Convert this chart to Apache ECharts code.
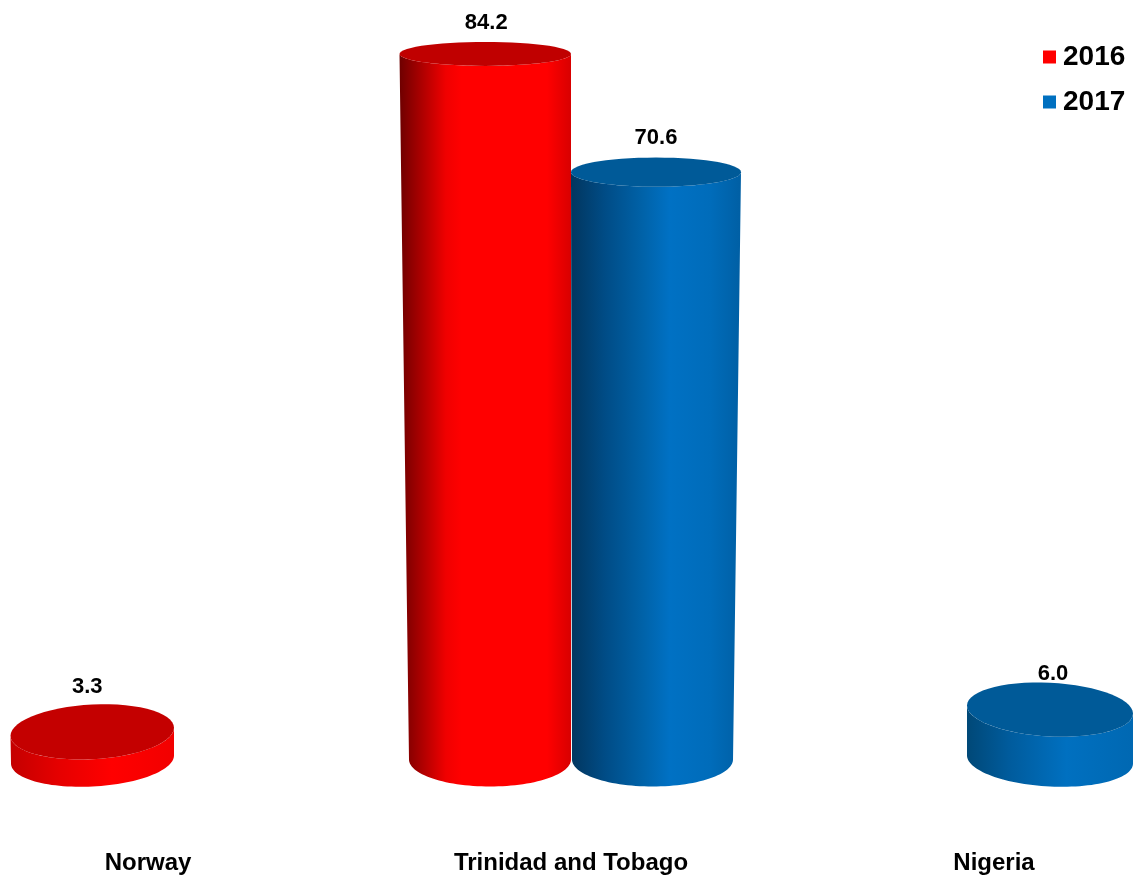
<!DOCTYPE html>
<html>
<head>
<meta charset="utf-8">
<style>html,body{margin:0;padding:0;background:#fff}#c{width:1133px;height:878px}</style>
<script src="https://cdn.jsdelivr.net/npm/echarts@6/dist/echarts.min.js"></script>
</head>
<body>
<div id="c"></div>
<script>
const categories = ['Norway', 'Trinidad and Tobago', 'Nigeria'];
const seriesNames = ['2016', '2017'];
const values2016 = [3.3, 84.2, null];
const values2017 = [null, 70.6, 6.0];

const FONT = '"Liberation Sans", Arial, sans-serif';
const redBody = [[0,'#6e0000'],[0.12,'#a80000'],[0.27,'#f00000'],[0.36,'#ff0000'],[0.86,'#ff0000'],[1,'#d80000']];
const blueBody = [[0,'#02365f'],[0.2,'#004c86'],[0.42,'#0062a8'],[0.58,'#0071c4'],[0.82,'#006cba'],[1,'#005fa4']];
const redFlat = [[0,'#c40000'],[0.3,'#e60000'],[0.62,'#ff0000'],[1,'#f20000']];
const blueFlat = [[0,'#004877'],[0.25,'#005b9c'],[0.6,'#0070c0'],[1,'#0068b2']];

// Horizontal look of each drum, relative to its category's centre.
const look = {
  '0-0': {l:-137, r:26, flareL:-0.5, flareR:0, tilt:-4, body:redFlat, cap:'#c40000', lx:-5, ly:18},
  '0-1': {l:-162, r:0, flareL:-9.5, flareR:0, tilt:0, body:redBody, cap:'#c00000', lx:1, ly:19},
  '1-1': {l:1, r:162, flareL:-1, flareR:8, tilt:0, body:blueBody, cap:'#005a98', lx:0, ly:20},
  '1-2': {l:-27, r:139, flareL:0, flareR:0, tilt:4, body:blueFlat, cap:'#005a98', lx:3, ly:9}
};

function arc(cx, cy, rx, ry, tilt, a0, a1) {
  const pts = [];
  const n = 60;
  for (let i = 0; i <= n; i++) {
    const t = a0 + (a1 - a0) * i / n;
    pts.push([cx + rx * Math.cos(t), cy + ry * Math.sin(t) + tilt * Math.cos(t)]);
  }
  return pts;
}

function drum(seriesIndex) {
  return function (params, api) {
    const cat = api.value(0), v = api.value(1);
    const g = look[seriesIndex + '-' + cat];
    const top = api.coord([cat, v]);
    const base = api.coord([cat, 0]);
    const ryTop = 28 - 0.19 * v, ryBase = 27;
    const lB = base[0] + g.l, rB = base[0] + g.r;
    const lT = lB + g.flareL, rT = rB + g.flareR;
    const cxB = (lB + rB) / 2, rxB = (rB - lB) / 2;
    const cxT = (lT + rT) / 2, rxT = (rT - lT) / 2;
    const side = arc(cxB, base[1], rxB, ryBase, g.tilt, Math.PI, 0)
      .concat(arc(cxT, top[1], rxT, ryTop, g.tilt, 0, Math.PI));
    const fill = {
      type: 'linear', x: 0, y: 0, x2: 1, y2: 0,
      colorStops: g.body.map(s => ({offset: s[0], color: s[1]}))
    };
    return {
      type: 'group',
      children: [
        {type: 'polygon', shape: {points: side}, style: {fill: fill}},
        {type: 'polygon', shape: {points: arc(cxT, top[1], rxT, ryTop, g.tilt, 0, Math.PI * 2)}, style: {fill: g.cap}},
        {type: 'text', style: {
          text: v.toFixed(1), x: cxT + g.lx, y: top[1] - ryTop - g.ly,
          align: 'center', verticalAlign: 'middle',
          font: 'bold 22px ' + FONT, fill: '#000'
        }}
      ]
    };
  };
}

function rows(values) {
  return values.map((v, i) => [i, v]).filter(r => r[1] !== null);
}

const chart = echarts.init(document.getElementById('c'), null, {renderer: 'canvas'});
chart.setOption({
  animation: false,
  backgroundColor: '#fff',
  legend: {
    data: seriesNames,
    orient: 'vertical',
    left: 1038,
    top: 38,
    itemWidth: 13,
    itemHeight: 13,
    itemGap: 17,
    icon: 'rect',
    textStyle: {fontFamily: FONT, fontWeight: 'bold', fontSize: 28, color: '#000', padding: [2, 0, 0, 2]}
  },
  grid: {left: -63.5, width: 1269, top: 0, height: 759.5, outerBoundsMode: 'none'},
  xAxis: {
    type: 'category',
    data: categories,
    axisLine: {show: false},
    axisTick: {show: false},
    axisLabel: {margin: 92, fontFamily: FONT, fontWeight: 'bold', fontSize: 24, color: '#000', interval: 0}
  },
  yAxis: [
    {type: 'value', min: 0, max: 90.63, show: false, splitLine: {show: false}},
    {type: 'value', min: 0, max: 91.29, show: false, splitLine: {show: false}}
  ],
  series: [
    {name: seriesNames[0], type: 'custom', yAxisIndex: 0, itemStyle: {color: '#ff0000'},
     data: rows(values2016), renderItem: drum(0), clip: false},
    {name: seriesNames[1], type: 'custom', yAxisIndex: 1, itemStyle: {color: '#0070c0'},
     data: rows(values2017), renderItem: drum(1), clip: false}
  ]
});
</script>
</body>
</html>
